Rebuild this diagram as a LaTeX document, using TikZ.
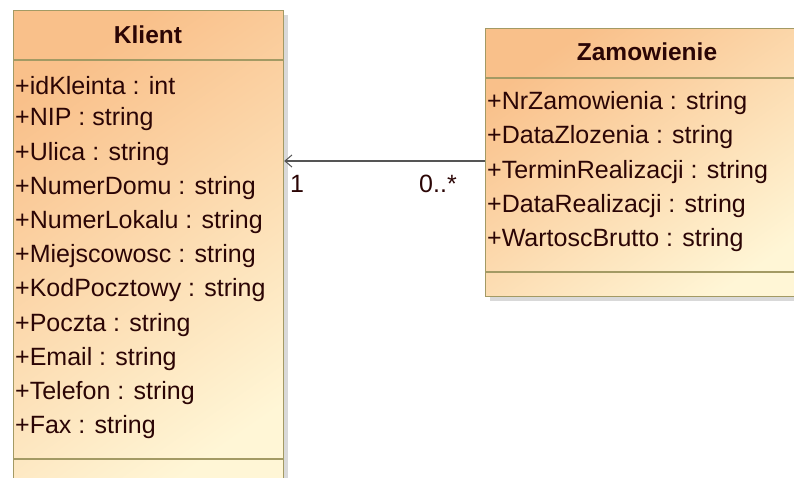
\documentclass[tikz,border=0pt]{standalone}
\usepackage{fontspec}
\setmainfont{Liberation Sans}
\usetikzlibrary{arrows.meta,shadows}
\definecolor{umlorange}{HTML}{F9C08A}
\definecolor{umlcream}{HTML}{FFF6D6}
\definecolor{umlborder}{HTML}{A39A64}
\definecolor{umltext}{HTML}{2B0505}
\definecolor{umlline}{HTML}{555555}
\tikzset{
  klasa/.style={rectangle, draw=umlborder, line width=1.2pt, inner sep=0pt,
    top color=umlorange, bottom color=umlcream, shading angle=35,
    drop shadow={shadow xshift=4pt, shadow yshift=-4pt, opacity=0.3, fill=gray}},
  przegroda/.style={draw=umlborder, line width=1.2pt},
  naglowek/.style={text=umltext, font=\fontsize{24.5}{28}\selectfont\bfseries},
  atrybut/.style={anchor=west, inner sep=0pt, text=umltext, font=\fontsize{25}{28}\selectfont},
  powiazanie/.style={draw=umlline, line width=1.2pt, -{Straight Barb[length=7pt,width=12pt,line width=1pt]}}
}
\begin{document}
\begin{tikzpicture}[x=1pt,y=-1pt]
  \useasboundingbox (0,0) rectangle (794,478);
  \clip (0,0) rectangle (794,478);
  % klasa Klient
  \node[klasa, minimum width=270pt, minimum height=490pt, anchor=north west] (klient) at (13,10) {};
  \draw[przegroda] (13,60) -- (283,60);
  \draw[przegroda] (13,459) -- (283,459);
  \node[naglowek] (klientNazwa) at (148,35) {Klient};
  \foreach \t [count=\i] in {idKleinta : int, NIP : string, Ulica : string,
      NumerDomu : string, NumerLokalu : string, Miejscowosc : string,
      KodPocztowy : string, Poczta : string, Email : string,
      Telefon : string, Fax : string}
    \node[atrybut] (klientAtr\i) at (15,51+34.2*\i) {+\t};
  % klasa Zamowienie
  \node[klasa, minimum width=330pt, minimum height=268pt, anchor=north west] (zamowienie) at (485,28) {};
  \draw[przegroda] (485,78) -- (815,78);
  \draw[przegroda] (485,272) -- (815,272);
  \node[naglowek] (zamowienieNazwa) at (647,52) {Zamowienie};
  \foreach \t [count=\i] in {NrZamowienia : string, DataZlozenia : string,
      TerminRealizacji : string, DataRealizacji : string, WartoscBrutto : string}
    \node[atrybut] (zamowienieAtr\i) at (487,69+34.25*\i) {+\t};
  % asocjacja
  \coordinate (asoc) at (0,161);
  \draw[powiazanie] (zamowienie.west |- asoc) -- (klient.east |- asoc);
  \node[atrybut] (krotnoscKlient) at (290,184) {1};
  \node[atrybut] (krotnoscZam) at (419,184) {0..*};
\end{tikzpicture}
\end{document}
